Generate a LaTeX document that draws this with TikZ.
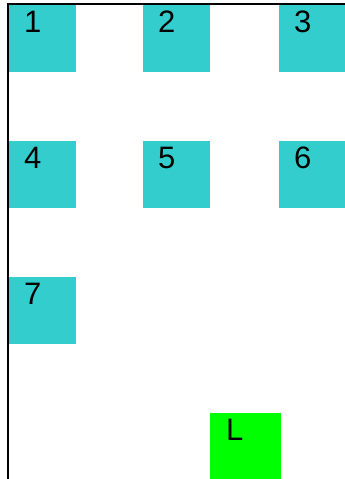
\documentclass[tikz,border=0pt]{standalone}
\usepackage{fontspec}
\setmainfont{Liberation Sans}
\usepackage{tikz}
\usetikzlibrary{positioning}
\definecolor{tealbox}{RGB}{52,205,205}
\definecolor{limebox}{RGB}{0,255,0}

\begin{document}
\begin{tikzpicture}[x=1pt, y=-1pt]

    % Styles for the grid cells and their numbers
    \tikzset{
        cellbox/.style={fill=tealbox, draw=none, inner sep=0pt, anchor=north west, minimum width=67pt, minimum height=67pt},
        goalbox/.style={fill=limebox, draw=none, inner sep=0pt, anchor=north west, minimum width=71pt, minimum height=66pt},
        cellnum/.style={anchor=north west, inner sep=0pt, xshift=15pt, yshift=-6pt, font=\fontsize{31}{31}\selectfont},
        frame/.style={draw=black, line width=2pt}
    }

    \useasboundingbox (0,0) rectangle (345,479);

    % First row
    \node[cellbox, label={[cellnum]north west:1}] (cell1) at (9,5) {};
    \node[cellbox, label={[cellnum]north west:2}] (cell2) at (143,5) {};
    \node[cellbox, label={[cellnum]north west:3}] (cell3) at (279,5) {};

    % Second row
    \node[cellbox, label={[cellnum]north west:4}] (cell4) at (9,141) {};
    \node[cellbox, label={[cellnum]north west:5}] (cell5) at (143,141) {};
    \node[cellbox, label={[cellnum]north west:6}] (cell6) at (279,141) {};

    % Third row
    \node[cellbox, label={[cellnum]north west:7}] (cell7) at (9,277) {};

    % Green cell at the bottom
    \node[goalbox, label={[cellnum, xshift=1pt]north west:L}] (goal) at (210,413) {};

    % Frame on the left and top
    \draw[frame] (8,479) -- (8,4.3) -- (345,4.3);

\end{tikzpicture}
\end{document}
